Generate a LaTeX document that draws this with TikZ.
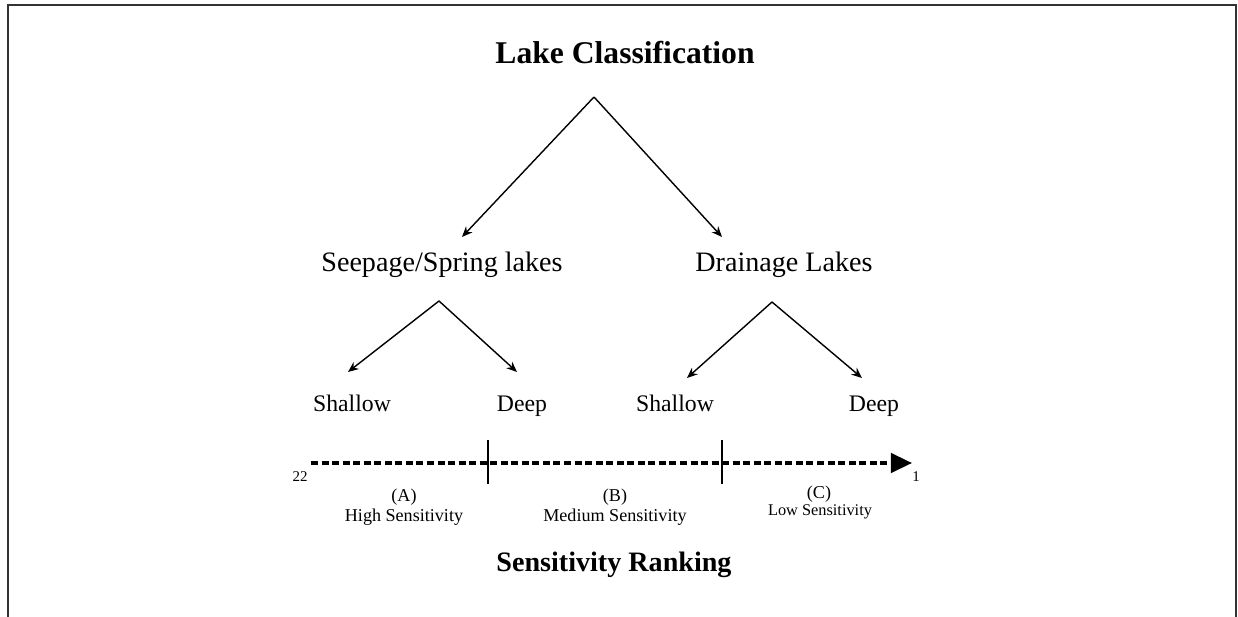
\documentclass[tikz,border=0pt]{standalone}
\usepackage{fontspec}
\setmainfont{Liberation Serif}
\usetikzlibrary{calc}
\usetikzlibrary{arrows.meta}

\tikzset{
	titletxt/.style={anchor=base, inner sep=0pt, font=\fontsize{18}{20}\selectfont\bfseries},
	lvltxt/.style={anchor=base, inner sep=0pt, font=\fontsize{16}{18}\selectfont},
	leaftxt/.style={anchor=base, inner sep=0pt, font=\fontsize{13.5}{15}\selectfont},
	sectxt/.style={anchor=base, inner sep=0pt, font=\fontsize{10.3}{12}\selectfont},
	numtxt/.style={anchor=base, inner sep=0pt, font=\fontsize{8.5}{10}\selectfont},
	branch/.style={line width=0.8pt, -{Stealth[length=6pt, width=5pt]}},
	axisline/.style={line width=2pt, dash pattern=on 4pt off 2pt, -{Triangle[length=12pt, width=11pt]}},
}

\begin{document}
\begin{tikzpicture}[x=0.02cm, y=-0.02cm]

		\useasboundingbox (0,0) rectangle (1238,617);
		\draw[line width=1.2pt, draw=black!80] (8,617) -- (8,5) -- (1236,5) -- (1236,617);

		\node[titletxt] (lakeClass) at (625,64) {Lake Classification};

		\node[lvltxt] (seepage) at (442,272) {Seepage/Spring lakes};
		\node[lvltxt] (drainage) at (784,272) {Drainage Lakes};

		\node[leaftxt] (seepShallow) at (352,412) {Shallow};
		\node[leaftxt] (seepDeep) at (522,412) {Deep};
		\node[leaftxt] (drainShallow) at (675,412) {Shallow};
		\node[leaftxt] (drainDeep) at (874,412) {Deep};

		\coordinate (lcApex) at (594,97);
		\coordinate (seepTip) at (462,237);
		\coordinate (drainTip) at (722,237);
		\draw[branch] (lcApex) -- (seepTip);
		\draw[branch] (lcApex) -- (drainTip);

		\coordinate (seepApex) at (439,301);
		\coordinate (seepShallowTip) at (348,372);
		\coordinate (seepDeepTip) at (517,372);
		\draw[branch] (seepApex) -- (seepShallowTip);
		\draw[branch] (seepApex) -- (seepDeepTip);

		\coordinate (drainApex) at (772,302);
		\coordinate (drainShallowTip) at (687,378);
		\coordinate (drainDeepTip) at (862,378);
		\draw[branch] (drainApex) -- (drainShallowTip);
		\draw[branch] (drainApex) -- (drainDeepTip);

		\coordinate (axisStart) at (311,463);
		\coordinate (axisEnd) at (912,463);
		\draw[axisline] (axisStart) -- (axisEnd);

		\coordinate (tickAB) at (488,462);
		\coordinate (tickBC) at (722,462);
		\draw[line width=0.7pt] ($(tickAB)+(0,-22)$) -- ($(tickAB)+(0,22)$);
		\draw[line width=0.7pt] ($(tickBC)+(0,-22)$) -- ($(tickBC)+(0,22)$);

		\node[numtxt] (rankLow) at (300,482) {22};
		\node[numtxt] (rankHigh) at (916,482) {1};

		\node[sectxt] (secA) at (404,502) {(A)};
		\node[sectxt] (secAtxt) at (404,522) {High Sensitivity};
		\node[sectxt] (secB) at (615,502) {(B)};
		\node[sectxt] (secBtxt) at (615,522) {Medium Sensitivity};
		\node[sectxt] (secC) at (819,499) {(C)};
		\node[sectxt, font=\fontsize{9.3}{11}\selectfont] (secCtxt) at (820,516) {Low Sensitivity};

		\node[titletxt, font=\fontsize{16}{18}\selectfont\bfseries] (ranking) at (614,572) {Sensitivity Ranking};

\end{tikzpicture}
\end{document}
